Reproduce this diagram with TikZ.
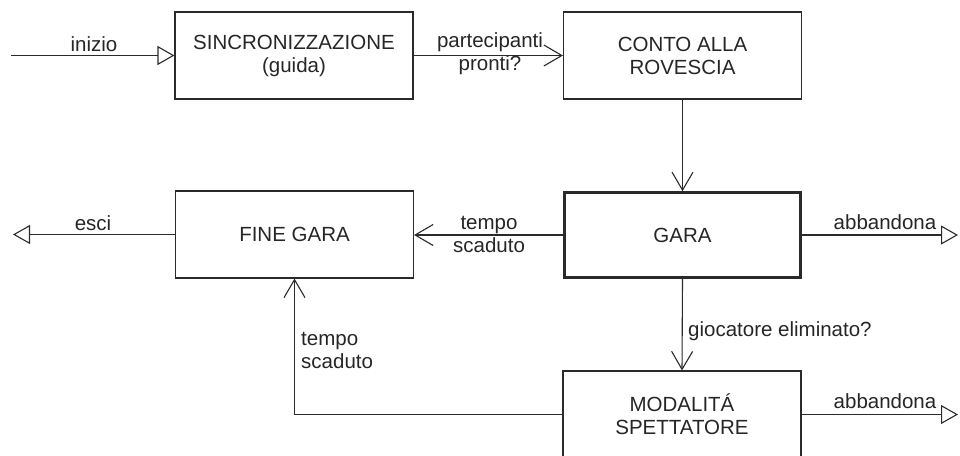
\documentclass[tikz,border=0pt]{standalone}
\usepackage{fontspec}
\setmainfont{Liberation Sans}
\usetikzlibrary{arrows.meta}
\definecolor{ln}{HTML}{2A2A2A}
\definecolor{tx}{HTML}{262626}
\tikzset{
  box/.style={draw=ln, line width=1.1pt, minimum width=238pt, minimum height=87pt, inner sep=0pt, align=center, text=tx},
  thickbox/.style={box, line width=2.6pt, minimum width=236pt, minimum height=85pt},
  lbl/.style={inner sep=0pt, text=tx, align=center},
  conn/.style={draw=ln, line width=1.1pt},
  tri/.style={conn, -{Triangle[open, length=17pt, width=19pt, line width=1.1pt]}},
  barb/.style={conn, -{Straight Barb[length=18pt, width=21pt, line width=1.1pt]}},
}
\begin{document}
\begin{tikzpicture}[x=1pt, y=-1pt, font=\fontsize{20.5}{23}\selectfont]
\useasboundingbox (0,0) rectangle (960,455);
\clip (0,0) rectangle (960,455);
\node[box] (sync) at (294,55.5) {SINCRONIZZAZIONE\\(guida)};
\node[box] (conto) at (682.5,55.5) {CONTO ALLA\\ROVESCIA};
\node[thickbox] (gara) at (682.5,235) {GARA};
\node[box] (fine) at (294.5,234.5) {FINE GARA};
\node[box] (mod) at (682,414.5) {MODALITÁ\\SPETTATORE};
\coordinate (start) at (11,55.5);
\coordinate (out) at (13,234.5);
\coordinate (ab1) at (958,235);
\coordinate (ab2) at (958,414.5);
\draw[tri] (start) -- (sync.west);
\draw[barb] (sync.east) -- (conto.west);
\draw[barb] (conto.south) -- (gara.north);
\draw[barb] (gara.west) -- (gara.west -| fine.east);
\draw[tri] (fine.west) -- (out);
\draw[tri] (gara.east) -- (ab1);
\draw[barb] (gara.south) -- (mod.north);
\draw[tri] (mod.east) -- (ab2);
\draw[barb] (mod.west) -| (fine.south);
\node[lbl, anchor=base] (linizio) at (94,51) {inizio};
\node[lbl] (lpart) at (490,54) {partecipanti\\pronti?};
\node[lbl] (ltempo1) at (489,234) {tempo\\scaduto};
\node[lbl, anchor=base] (lesci) at (93,230) {esci};
\node[lbl, anchor=base] (lab1) at (885,229) {abbandona};
\node[lbl, anchor=base] (lab2) at (885,408) {abbandona};
\node[lbl, anchor=base west] (lgioc) at (688,336) {giocatore eliminato?};
\node[lbl, align=left, anchor=west] (ltempo2) at (301,350) {tempo\\scaduto};
\end{tikzpicture}
\end{document}
